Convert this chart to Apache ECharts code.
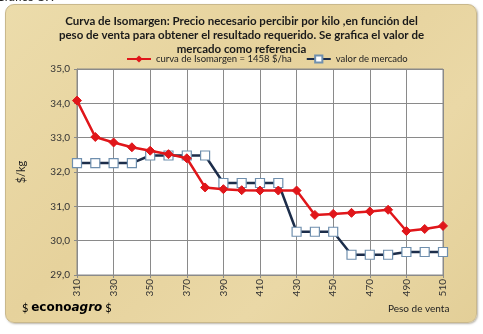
<!DOCTYPE html>
<html>
<head>
<meta charset="utf-8">
<script src="https://cdn.jsdelivr.net/npm/echarts@6/dist/echarts.min.js"></script>
<style>
html,body{margin:0;padding:0;background:#fff;width:483px;height:334px;overflow:hidden;}
#frame{position:absolute;left:5px;top:4px;width:470px;height:317px;border-radius:9px;
background:linear-gradient(135deg,#ecdcab 0%,#e6d29c 40%,#ead8a6 70%,#e3cf98 100%);
border:1px solid #c9b88c;box-shadow:1px 1px 2px rgba(120,110,90,0.5);}
#chart{position:absolute;left:0;top:0;width:483px;height:334px;}
</style>
</head>
<body>
<div id="frame"></div>
<div id="chart"></div>
<script>
const titleText = 'Curva de Isomargen: Precio necesario percibir por kilo ,en función del\npeso de venta para obtener el resultado requerido. Se grafica el valor de\nmercado como referencia';
const seriesNames = ['curva de Isomargen = 1458 $/ha', 'valor de mercado'];
const weights = [310,320,330,340,350,360,370,380,390,400,410,420,430,440,450,460,470,480,490,500,510];
const isomargen = [34.08,33.02,32.86,32.72,32.62,32.52,32.40,31.55,31.50,31.47,31.46,31.46,31.46,30.75,30.78,30.81,30.85,30.90,30.28,30.34,30.43];
const mercado = [32.26,32.26,32.26,32.26,32.48,32.48,32.48,32.48,31.68,31.68,31.68,31.68,30.26,30.26,30.26,29.59,29.59,29.59,29.67,29.67,29.67];
const yTicks = {min:29, max:35, interval:1};
const xTicks = {min:310, max:510, interval:20};

const chart = echarts.init(document.getElementById('chart'), null, {renderer:'canvas'});
const F = 'Lato, "Open Sans", sans-serif';
chart.setOption({
  backgroundColor:'transparent',
  animation:false,
  title:{
    text:titleText, left:'center', top:9,
    textStyle:{fontFamily:F, fontSize:11.5, fontWeight:'bold', color:'#1a1a1a', lineHeight:14}
  },
  legend:{
    top:49, left:121, itemWidth:24, itemHeight:9, itemGap:14,
    textStyle:{fontFamily:F, fontSize:9.5, color:'#222'},
    data:seriesNames
  },
  grid:{left:77, right:40, top:69, bottom:59, show:true, backgroundColor:'#fff', borderColor:'#8a8a8a', borderWidth:1},
  xAxis:{
    type:'value', min:xTicks.min, max:xTicks.max, interval:xTicks.interval,
    axisLine:{lineStyle:{color:'#8a8a8a'}},
    axisTick:{show:true, length:3, lineStyle:{color:'#8a8a8a'}},
    splitLine:{lineStyle:{color:'#8a8a8a', width:1}},
    axisLabel:{rotate:90, fontFamily:F, fontSize:10, color:'#333', margin:4}
  },
  yAxis:{
    type:'value', min:yTicks.min, max:yTicks.max, interval:yTicks.interval,
    name:'$/kg', nameLocation:'middle', nameGap:50, nameRotate:90,
    nameTextStyle:{fontFamily:F, fontSize:11, color:'#222'},
    axisLine:{show:true, lineStyle:{color:'#8a8a8a'}},
    axisTick:{show:true, length:3, lineStyle:{color:'#8a8a8a'}},
    splitLine:{lineStyle:{color:'#8a8a8a', width:1}},
    axisLabel:{fontFamily:F, fontSize:10, color:'#333', margin:7,
      formatter:v=>v.toFixed(1).replace('.',',')}
  },
  series:[
    {name:seriesNames[0], type:'line', data:weights.map((w,i)=>[w,isomargen[i]]),
     symbol:'diamond', symbolSize:9, lineStyle:{color:'#e0161a', width:2.5},
     itemStyle:{color:'#e0161a', borderColor:'#e0161a'}, z:3},
    {name:seriesNames[1], type:'line', data:weights.map((w,i)=>[w,mercado[i]]),
     symbol:'rect', symbolSize:9, lineStyle:{color:'#1c2d4a', width:2.5},
     itemStyle:{color:'#ffffff', borderColor:'#6f8fae', borderWidth:1.2}, z:2}
  ],
  graphic:[
    {type:'text', left:-4, top:-9, style:{text:'Gráfico 19:', font:'12px '+F, fill:'#222'}},
    {type:'text', left:388, top:304, style:{text:'Peso de venta', font:'10px '+F, fill:'#222'}},
    {type:'text', left:22, top:302, style:{
      text:'{d|$ }{e|econo}{g|agro}{d| $}',
      rich:{
        d:{fontFamily:F, fontSize:11, color:'#4a3c1a'},
        e:{fontFamily:'"DejaVu Sans", sans-serif', fontSize:12, fontWeight:'bold', color:'#1a1a1a'},
        g:{fontFamily:'"DejaVu Sans", sans-serif', fontSize:12, fontWeight:'bold', fontStyle:'italic', color:'#2e8b2e'}
      }}}
  ]
});
</script>
</body>
</html>
